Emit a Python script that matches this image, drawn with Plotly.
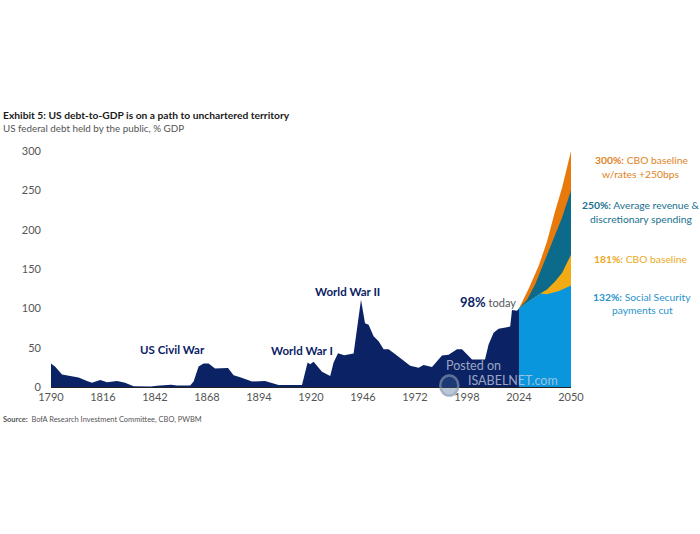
import plotly.graph_objects as go

hist_years = [1790,1792,1795.5,1799.6,1803.8,1808,1810.5,1814.6,1818,1823,1827,1831.3,1834,1840,1843,1848,1850,1853,1859.6,1861.3,1863.8,1866.3,1868.8,1872,1877,1878.5,1881.3,1884.6,1890.5,1897,1903.8,1915.5,1918.3,1919.6,1921.3,1923,1925.5,1929.6,1931.3,1933.5,1935.5,1936.6,1941.3,1943,1945,1947,1948.8,1951.3,1953.8,1956.3,1958.8,1962,1965.5,1969.6,1973.8,1976.3,1980.5,1983,1985.5,1988.8,1993,1995.5,1998,2000.5,2007,2008.8,2011.3,2013.8,2018,2019.6,2020.5,2023,2024]
hist_vals = [30,26,16,14,12,7.5,5.5,9,6,7.5,5.5,0.8,0.6,0.6,1.5,2,2.8,2,2,7,26,30,30,23.5,23.5,24,15,12.5,7,7.5,2.5,2.5,31,29,32,27,19.5,14,31,43,42,40.5,42.5,75,111,81,79,64.5,58,48,48,42,35,27,24.5,28,25.5,33,40,41,48,48,42,35,35,54,69,74,76,77,98,97,100]

orange_years = [2024,2029,2034,2038,2042,2045.5,2050]
orange_vals = [100,126,155,185,223,253,300]
teal_years = [2024,2028,2032,2036,2040.5,2045.5,2050]
teal_vals = [100,111,130,155,185,215,250]
yellow_years = [2024,2029,2034.6,2038,2042,2045.5,2050]
yellow_vals = [100,109,119,124,134,145,168]
blue_years = [2024,2029,2034.6,2038,2044,2050]
blue_vals = [100,109,119,118,122,129]

x_ticks = [1790,1816,1842,1868,1894,1920,1946,1972,1998,2024,2050]
y_ticks = [0,50,100,150,200,250,300]

NAVY = "#0b2265"
FONT = "Lato"

fig = go.Figure()
for xs, ys, col in [
    (hist_years, hist_vals, NAVY),
    (orange_years, orange_vals, "#e87a0c"),
    (teal_years, teal_vals, "#0c6a8a"),
    (yellow_years, yellow_vals, "#f2ab13"),
    (blue_years, blue_vals, "#0a96dc"),
]:
    fig.add_trace(go.Scatter(x=xs, y=ys, mode="lines", line=dict(width=0, color=col),
                             fill="tozeroy", fillcolor=col, hoverinfo="skip", showlegend=False))

def paper(px, py, text, size, color, anchor="left", opacity=1):
    fig.add_annotation(xref="paper", yref="paper",
                       x=(px-51)/(570.6-51), y=(387.5-py)/(387.5-151),
                       text=text, showarrow=False, xanchor=anchor, yanchor="middle",
                       align="center" if anchor == "center" else "left",
                       font=dict(family=FONT, size=size, color=color), opacity=opacity,
                       xshift=-2 if anchor == "left" and px < 10 else 0)

paper(3, 115, "<b>Exhibit 5: US debt-to-GDP is on a path to unchartered territory</b>", 10.25, "#1a1a1a")
paper(3, 128, "US federal debt held by the public, % GDP", 9.8, "#555555")
paper(3, 420, "<b>Source:</b>  BofA Research Investment Committee, CBO, PWBM", 7.45, "#555555")

paper(172, 350, "<b>US Civil War</b>", 11.5, NAVY, "center")
paper(302, 351, "<b>World War I</b>", 11.5, NAVY, "center")
paper(347, 292, "<b>World War II</b>", 11.5, NAVY, "center")
paper(488, 302, "<b><span style='font-size:13px'>98%</span></b> <span style='color:#555'>today</span>", 11, NAVY, "center")

paper(641, 160, "<b>300%:</b> CBO baseline", 10.3, "#e08324", "center")
paper(641, 174, "w/rates +250bps", 10.3, "#e08324", "center")
paper(641, 205, "<b>250%:</b> Average revenue &amp;", 10.3, "#17708e", "center")
paper(641, 219, "discretionary spending", 10.3, "#17708e", "center")
paper(640, 259, "<b>181%:</b> CBO baseline", 10.3, "#eba91c", "center")
paper(642, 297, "<b>132%:</b> Social Security", 10.3, "#2a93cc", "center")
paper(642, 310, "payments cut", 10.3, "#2a93cc", "center")

# watermark
paper(444, 366, "Posted on", 12.5, "#c9d2e0", opacity=0.75)
paper(466, 381, "ISABELNET.com", 12.5, "#c9d2e0", opacity=0.75)
fig.add_shape(type="circle", xref="paper", yref="paper",
              x0=(440-51)/519.6, x1=(458-51)/519.6, y0=(387.5-396)/236.5, y1=(387.5-376)/236.5,
              line=dict(color="#8094ad", width=2.5), fillcolor="rgba(60,100,150,0.5)", opacity=0.7)

fig.update_layout(
    width=700, height=534, autosize=False,
    margin=dict(l=51, r=129.4, t=151, b=146.5),
    paper_bgcolor="white", plot_bgcolor="white",
    font=dict(family=FONT, size=11, color="#555555"),
    xaxis=dict(range=[1790,2050], tickmode="array", tickvals=x_ticks, ticktext=[str(v) for v in x_ticks],
               showgrid=False, zeroline=False, showline=True, linecolor="#222222", linewidth=1,
               ticks="", tickfont=dict(size=11, color="#555555"), layer="above traces"),
    yaxis=dict(range=[0,300], tickmode="array", tickvals=y_ticks, showgrid=False, zeroline=False,
               showline=False, ticks="", tickfont=dict(size=11, color="#555555"), ticklabelstandoff=9),
)
fig.write_html("out.html", config={"displayModeBar": False},
               post_script="document.body.style.margin='0';document.body.style.overflow='hidden';")
